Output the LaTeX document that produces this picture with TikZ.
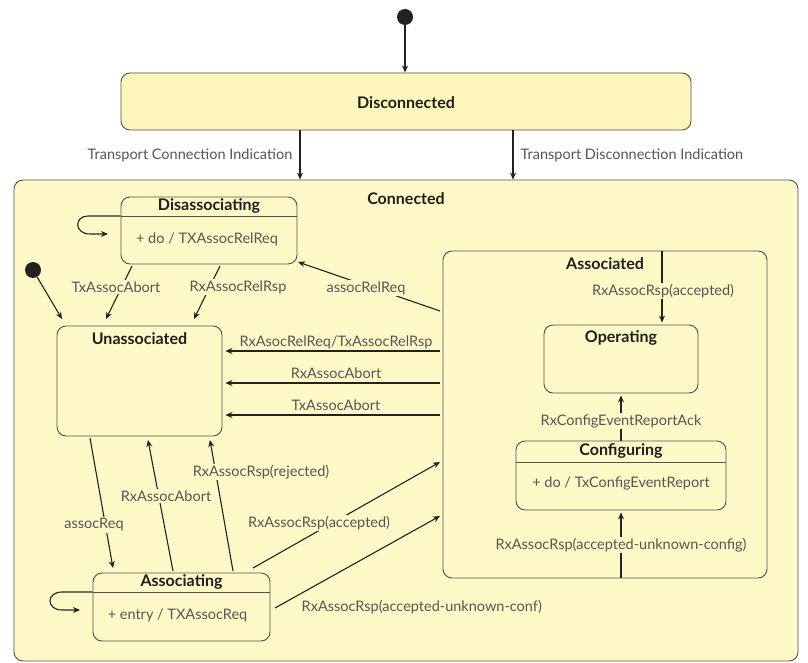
\documentclass[tikz,border=0pt]{standalone}
\usepackage{fontspec}
\setmainfont{Lato}
\usetikzlibrary{arrows.meta}
\definecolor{fillA}{HTML}{FFF9C8}
\definecolor{fillD}{HTML}{FFF6BC}
\definecolor{linec}{HTML}{505050}
\definecolor{arrc}{HTML}{222222}
\definecolor{lblc}{HTML}{555555}
\definecolor{titc}{HTML}{1E1E1E}
\begin{document}
\begin{tikzpicture}[x=1pt,y=-1pt,
  state/.style={draw=linec,line width=0.9pt,fill=fillA,rounded corners=9pt,inner sep=0pt},
  title/.style={font=\fontsize{16}{18}\selectfont\bfseries,text=titc,inner sep=1pt},
  lbl/.style={font=\fontsize{14.5}{16}\selectfont,text=lblc,inner sep=1.5pt},
  lblf/.style={lbl,fill=fillA},
  arr/.style={draw=arrc,line width=1.1pt,-{Stealth[length=7pt,width=6pt]}},
  sep/.style={draw=linec,line width=0.9pt},
  initdot/.style={circle,fill=arrc,minimum size=16pt,inner sep=0pt}]
\useasboundingbox (0,0) rectangle (808,663);
\fill[white] (0,0) rectangle (808,663);
% outer states
\node[state,fill=fillD,minimum width=570pt,minimum height=57pt] (disc) at (406,101.5) {};
\node[title] (disct) at (406,103) {Disconnected};
\node[state,minimum width=784pt,minimum height=481pt] (conn) at (406,420.5) {};
\node[title] (connt) at (406,199) {Connected};
% initial
\node[initdot] (init1) at (405,17) {};
\draw[arr] (init1) -- (disc.north -| init1);
\draw[arr] (disc.south -| 300,0) -- (conn.north -| 300,0);
\draw[arr] (disc.south -| 513,0) -- (conn.north -| 513,0);
\node[lbl,anchor=east] (ltci) at (294,155) {Transport Connection Indication};
\node[lbl,anchor=west] (ltdi) at (519,155) {Transport Disconnection Indication};
% substates
\node[state,minimum width=176pt,minimum height=67pt] (disa) at (209,230.5) {};
\node[title] (disat) at (209,206) {Disassociating};
\draw[sep] (disa.west |- 0,216) -- (disa.east |- 0,216);
\node[lbl] (disab) at (207,239) {+ do / TXAssocRelReq};
\draw[arr] (disa.west |- 0,216) -- (88,216) .. controls (74,216) and (74,234) .. (90,234) -- (108,234);

\node[state,minimum width=165pt,minimum height=110pt] (unas) at (139.5,381) {};
\node[title] (unast) at (139.5,339) {Unassociated};

\node[state,minimum width=324pt,minimum height=327pt] (assoc) at (605,414.5) {};
\node[title] (assoct) at (605,264) {Associated};

\node[state,minimum width=154pt,minimum height=68pt] (oper) at (621,359) {};
\node[title] (opert) at (621,338) {Operating};

\node[state,minimum width=210pt,minimum height=69pt] (conf) at (621,475.5) {};
\node[title] (conft) at (621,451) {Configuring};
\draw[sep] (conf.west |- 0,462) -- (conf.east |- 0,462);
\node[lbl] (confb) at (621,483) {+ do / TxConfigEventReport};

\node[state,minimum width=177pt,minimum height=68pt] (asng) at (181.5,607) {};
\node[title] (asngt) at (181.5,582) {Associating};
\draw[sep] (asng.west |- 0,592) -- (asng.east |- 0,592);
\node[lbl] (asngb) at (177.5,615) {+ entry / TXAssocReq};
\draw[arr] (asng.west |- 0,592) -- (62,592) .. controls (46,592) and (46,610) .. (62,610) -- (80,610);

% initial 2
\node[initdot] (init2) at (33,270) {};
\coordinate (u0) at (62,319);
\draw[arr] (init2) -- (u0);

% Disassociating -> Unassociated
\coordinate (d1) at (132,266);
\coordinate (u1) at (106,319);
\draw[arr] (d1) -- (u1);
\node[lblf] (l1) at (116,287) {TxAssocAbort};
\coordinate (d2) at (220,266);
\coordinate (u2) at (194,319);
\draw[arr] (d2) -- (u2);
\node[lblf] (l2) at (238,287) {RxAssocRelRsp};

% Associated -> Disassociating
\coordinate (a0) at (440,311);
\coordinate (d3) at (298,262);
\draw[arr] (a0) -- (d3);
\node[lblf] (l3) at (366,288) {assocRelReq};

% Associated -> Unassociated
\draw[arr,shorten <=3pt,shorten >=3pt] (assoc.west |- 0,351) -- (unas.east |- 0,351);
\node[lbl] (l4) at (336,342) {RxAsocRelReq/TxAssocRelRsp};
\draw[arr,shorten <=3pt,shorten >=3pt] (assoc.west |- 0,383) -- (unas.east |- 0,383);
\node[lbl] (l5) at (336,373) {RxAssocAbort};
\draw[arr,shorten <=3pt,shorten >=3pt] (assoc.west |- 0,415) -- (unas.east |- 0,415);
\node[lbl] (l6) at (336,405) {TxAssocAbort};

% inside Associated
\draw[arr,shorten >=2pt] (assoc.north -| 662,0) -- (oper.north -| 662,0);
\node[lblf] (l7) at (663,291) {RxAssocRsp(accepted)};
\draw[arr,shorten >=2pt] (conf.north) -- (oper.south);
\node[lblf] (l8) at (621,421) {RxConfigEventReportAck};
\draw[arr,shorten >=2pt] (assoc.south -| conf.south) -- (conf.south);
\node[lblf] (l9) at (621,545) {RxAssocRsp(accepted-unknown-config)};

% Unassociated <-> Associating
\coordinate (ub1) at (90,438);
\coordinate (ab1) at (113,568);
\draw[arr] (ub1) -- (ab1);
\node[lblf] (l10) at (94,525) {assocReq};
\coordinate (ab2) at (173,571);
\coordinate (ub2) at (148,440);
\draw[arr] (ab2) -- (ub2);
\node[lblf] (l11) at (166,496) {RxAssocAbort};
\coordinate (ab3) at (233,571);
\coordinate (ub3) at (210,440);
\draw[arr] (ab3) -- (ub3);
\node[lblf] (l12) at (261,472) {RxAssocRsp(rejected)};

% Associating -> Associated
\coordinate (ab4) at (253,568);
\coordinate (as1) at (440,462);
\draw[arr] (ab4) -- (as1);
\node[lblf] (l13) at (319,523) {RxAssocRsp(accepted)};
\coordinate (ab5) at (275,608);
\coordinate (as2) at (440,516);
\draw[arr] (ab5) -- (as2);
\node[lbl,anchor=west] (l14) at (300,607) {RxAssocRsp(accepted-unknown-conf)};
\end{tikzpicture}
\end{document}
